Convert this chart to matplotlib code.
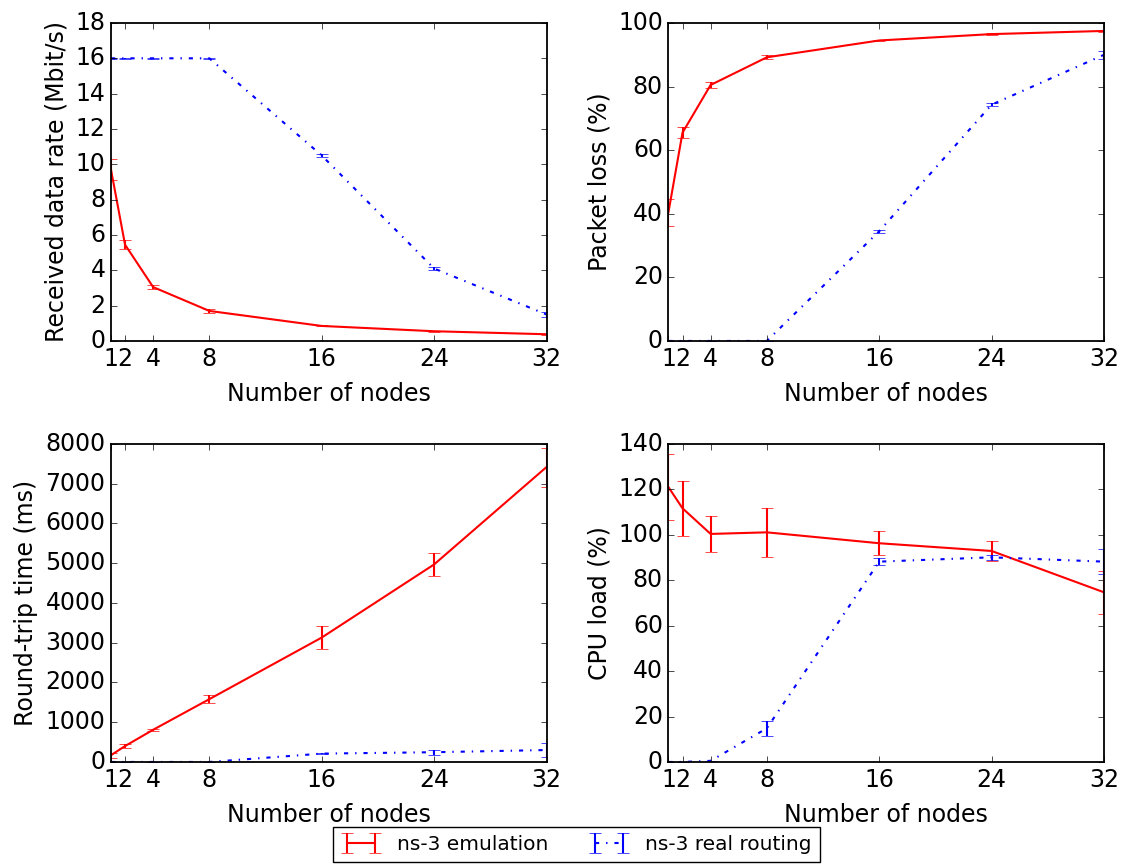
import matplotlib
matplotlib.use('Agg')
import matplotlib.pyplot as plt

plt.style.use('classic')
plt.rcParams['font.size'] = 17
plt.rcParams['font.family'] = ['DejaVu Sans']
plt.rcParams['axes.linewidth'] = 1.3

nodes = [1, 2, 4, 8, 16, 24, 32]

# received data rate (Mbit/s)
rate_emu = [9.7, 5.45, 3.05, 1.7, 0.85, 0.55, 0.38]
rate_emu_err = [0.6, 0.25, 0.1, 0.1, 0.03, 0.03, 0.03]
rate_real = [16.0, 16.0, 16.0, 16.0, 10.5, 4.1, 1.5]
rate_real_err = [0.02, 0.02, 0.02, 0.02, 0.1, 0.08, 0.15]

# packet loss (%)
loss_emu = [40.5, 65.5, 80.5, 89.2, 94.5, 96.5, 97.5]
loss_emu_err = [4.2, 1.7, 0.8, 0.6, 0.2, 0.2, 0.2]
loss_real = [0.0, 0.0, 0.0, 0.0, 34.5, 74.3, 90.0]
loss_real_err = [0.0, 0.0, 0.0, 0.0, 0.5, 0.5, 1.2]

# round-trip time (ms)
rtt_emu = [170, 400, 810, 1580, 3130, 4970, 7420]
rtt_emu_err = [60, 50, 30, 100, 300, 290, 490]
rtt_real = [0, 0, 0, 0, 210, 245, 300]
rtt_real_err = [0, 0, 0, 0, 20, 60, 185]

# CPU load (%)
cpu_emu = [121, 111.7, 100.4, 101.1, 96.3, 92.9, 74.7]
cpu_emu_err = [14.5, 12, 8, 10.8, 5.2, 4.3, 9.5]
cpu_real = [0, 0, 0.5, 14.8, 88.2, 90.1, 88.2]
cpu_real_err = [0, 0, 0, 3.4, 1.5, 1.0, 5.6]

panels = [
    (rate_emu, rate_emu_err, rate_real, rate_real_err, 'Received data rate (Mbit/s)', 18, 2),
    (loss_emu, loss_emu_err, loss_real, loss_real_err, 'Packet loss (%)', 100, 20),
    (rtt_emu, rtt_emu_err, rtt_real, rtt_real_err, 'Round-trip time (ms)', 8000, 1000),
    (cpu_emu, cpu_emu_err, cpu_real, cpu_real_err, 'CPU load (%)', 140, 20),
]

fig, axes = plt.subplots(2, 2, figsize=(11.28, 8.64), dpi=100)
fig.subplots_adjust(left=0.0984, right=0.9787, top=0.9734, bottom=0.1181,
                    wspace=0.28, hspace=0.324)

for ax, (emu, emu_err, real, real_err, ylabel, ymax, ystep) in zip(axes.flat, panels):
    h1 = ax.errorbar(nodes, emu, yerr=emu_err, color='red', linestyle='-',
                     linewidth=1.5, capsize=4.5, label='ns-3 emulation')
    h2 = ax.errorbar(nodes, real, yerr=real_err, color='blue', linestyle='-.',
                     linewidth=1.5, capsize=4.5, label='ns-3 real routing')
    ax.set_xlim(1, 32)
    ax.set_ylim(0, ymax)
    ax.set_xticks(nodes)
    ax.set_yticks(range(0, ymax + 1, ystep))
    ax.set_xlabel('Number of nodes', labelpad=8)
    ax.set_ylabel(ylabel)

fig.legend([h1, h2], ['ns-3 emulation', 'ns-3 real routing'], loc='lower center',
           ncol=2, bbox_to_anchor=(0.511, -0.009), fontsize=14.5)

fig.savefig('out.png', dpi=100)
